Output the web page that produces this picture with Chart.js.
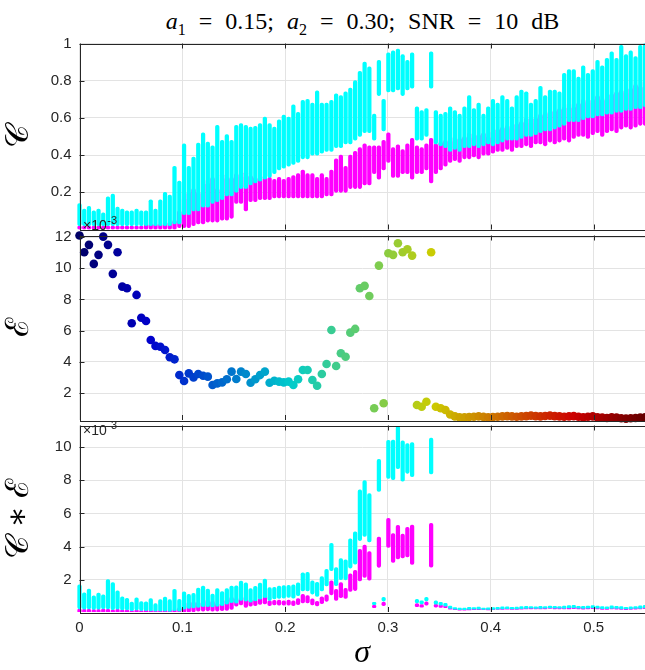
<!DOCTYPE html>
<html>
<head>
<meta charset="utf-8">
<script src="https://cdn.jsdelivr.net/npm/chart.js@4.4.1/dist/chart.umd.min.js"></script>
<style>
  body { margin: 0; background: #fff; width: 645px; height: 670px; overflow: hidden; position: relative; }
  canvas { position: absolute; left: 0; top: 0; }
  #title { position: absolute; left: 80px; width: 565px; top: 7px; text-align: center; white-space: nowrap;
           font: 24px/28px "Liberation Serif", "DejaVu Serif", serif; color: #000; word-spacing: 7px; }
  #title sub { font-size: 16px; line-height: 0; }
</style>
</head>
<body>
<div id="title"><i>a</i><sub>1</sub> = 0.15; <i>a</i><sub>2</sub> = 0.30; SNR = 10 dB</div>
<canvas id="pC" width="645" height="670"></canvas>
<canvas id="pE" width="645" height="670"></canvas>
<canvas id="pCE" width="645" height="670"></canvas>
<script>
// sigma grid (one column of trials per value)
const sigma = [0, .0046, .0092, .0139, .0185, .0231, .0277, .0324, .0370, .0416,
  .0462, .0508, .0555, .0601, .0647, .0693, .0739, .0786, .0832, .0878,
  .0924, .0971, .1017, .1063, .1109, .1155, .1202, .1248, .1294, .1340,
  .1387, .1433, .1479, .1525, .1571, .1618, .1664, .1710, .1756, .1803,
  .1849, .1895, .1941, .1987, .2034, .2080, .2126, .2172, .2218, .2265,
  .2311, .2357, .2403, .2450, .2496, .2542, .2588, .2634, .2681, .2727,
  .2773, .2819, .2866, .2912, .2958, .3004, .3050, .3097, .3143, .3189,
  .3235, .3282, .3328, .3374, .3420, .3466, .3513, .3559, .3605, .3651,
  .3697, .3744, .3790, .3836, .3882, .3929, .3975, .4021, .4067, .4113,
  .4160, .4206, .4252, .4298, .4345, .4391, .4437, .4483, .4529, .4576,
  .4622, .4668, .4714, .4761, .4807, .4853, .4899, .4945, .4992, .5038,
  .5084, .5130, .5176, .5223, .5269, .5315, .5361, .5408, .5454, .5500];

// error E, in units of 1e-3
const errE = [12.1, 11.03, 11.5, 10.28, 10.86, 12.03, 11.5, 9.64, 11.03, 8.82,
  8.72, 6.47, 8.29, 6.83, 6.62, 5.4, 5.02, 4.97, 4.76, 4.29,
  4.16, 3.15, 2.77, 3.26, 3.0, 3.22, 3.11, 3.05, 2.51, 2.62,
  2.68, 2.88, 3.37, 2.9, 3.37, 3.22, 2.66, 2.88, 3.15, 3.37,
  2.66, 2.79, 2.73, 2.68, 2.73, 2.51, 2.88, 3.48, 3.48, 2.83,
  2.47, 3.22, 3.86, 6.04, 3.73, 4.55, 4.33, 5.87, 6.11, 8.72,
  8.87, 8.22, 1.02, 10.17, 1.34, 10.96, 10.86, 11.6, 11.03, 11.22,
  10.81, 1.23, 1.12, 1.44, 11.03, 1.12, 1.02, 0.91, 0.62, 0.5,
  0.45, 0.44, 0.46, 0.48, 0.5, 0.47, 0.45, 0.46, 0.48, 0.5,
  0.52, 0.5, 0.48, 0.5, 0.52, 0.55, 0.52, 0.5, 0.53, 0.55,
  0.52, 0.5, 0.48, 0.5, 0.52, 0.48, 0.45, 0.48, 0.5, 0.45,
  0.42, 0.4, 0.44, 0.42, 0.38, 0.36, 0.38, 0.4, 0.42, 0.45];

// spread of C over the trials at each sigma (cyan series)
const cyanLo = [.02, .02, .02, .02, .02, .02, .02, .02, .02, .02,
  .02, .02, .02, .02, .02, .02, .02, .02, .02, .02,
  .03, .03, .08, .08, .10, .10, .12, .12, .14, .15,
  .16, .18, .18, .20, .22, .22, .24, .25, .26, .27,
  .28, .30, .32, .33, .34, .35, .36, .38, .38, .40,
  .40, .41, .42, .42, .44, .44, .46, .46, .48, .50,
  .52, .52, .48, .72, .53, .74, .74, .75, .72, .75,
  .76, .48, .48, .50, .76, .46, .45, .44, .42, .43,
  .42, .44, .44, .45, .44, .45, .46, .45, .46, .47,
  .48, .48, .48, .49, .50, .50, .51, .52, .53, .53,
  .54, .55, .56, .58, .58, .58, .59, .60, .60, .61,
  .61, .62, .62, .63, .63, .64, .64, .65, .65, .66];
const cyanHi = [.14, .11, .125, .10, .11, .09, .175, .19, .12, .11,
  .10, .10, .11, .10, .10, .16, .11, .16, .20, .185,
  .34, .26, .46, .34, .39, .465, .52, .47, .45, .56,
  .48, .51, .48, .56, .57, .56, .55, .555, .57, .605,
  .57, .55, .59, .615, .605, .67, .63, .695, .70, .68,
  .745, .68, .68, .695, .73, .72, .74, .76, .80, .85,
  .90, .875, .62, .91, .70, .95, .96, .97, .94, .91,
  .95, .66, .64, .65, .955, .64, .62, .63, .66, .64,
  .62, .66, .72, .65, .68, .62, .66, .70, .68, .72,
  .70, .66, .72, .75, .74, .68, .70, .77, .72, .75,
  .75, .74, .84, .86, .86, .82, .88, .84, .86, .91,
  .88, .92, .955, .92, .99, .94, .96, .93, .99, 1.0];
// magenta series
const magLo = [0, 0, 0, 0, 0, 0, 0, 0, 0, 0,
  0, 0, 0, 0, 0, 0, 0, 0, 0, 0,
  0, .01, .01, .01, .02, .03, .03, .04, .04, .04,
  .05, .05, .06, .14, .14, .10, .15, .15, .16, .16,
  .16, .17, .17, .17, .17, .17, .17, .17, .17, .17,
  .17, .17, .18, .18, .20, .20, .20, .22, .22, .22,
  .24, .24, .30, .27, .32, .36, .28, .28, .30, .30,
  .27, .30, .30, .32, .25, .30, .32, .34, .36, .37,
  .36, .38, .38, .39, .38, .40, .40, .41, .42, .42,
  .43, .42, .44, .44, .45, .44, .46, .46, .45, .47,
  .46, .47, .48, .47, .49, .50, .50, .49, .51, .52,
  .50, .52, .53, .52, .54, .55, .54, .55, .56, .56];
const magHi = [.02, .02, .02, .02, .02, .02, .02, .02, .02, .02,
  .02, .02, .02, .02, .03, .03, .03, .03, .04, .04,
  .05, .10, .17, .20, .22, .20, .27, .25, .28, .22,
  .30, .28, .28, .30, .29, .31, .29, .28, .28, .29,
  .28, .27, .28, .27, .28, .29, .30, .32, .30, .30,
  .28, .30, .28, .32, .38, .40, .34, .40, .42, .44,
  .46, .45, .45, .45, .48, .52, .44, .455, .43, .46,
  .49, .45, .44, .46, .49, .46, .47, .48, .50, .48,
  .49, .50, .52, .50, .51, .52, .50, .53, .54, .55,
  .56, .55, .57, .58, .60, .58, .60, .62, .63, .64,
  .64, .65, .66, .68, .66, .68, .70, .69, .70, .72,
  .70, .71, .73, .74, .75, .74, .76, .78, .77, .80];

const xTicks = [0, 0.1, 0.2, 0.3, 0.4, 0.5];
const cTicks = [0.2, 0.4, 0.6, 0.8, 1];
const eTicks = [2, 4, 6, 8, 10, 12];
const ceTicks = [2, 4, 6, 8, 10];

const AXIS = '#262626', GRID = '#e3e3e3';
const SANS = '"Liberation Sans", Arial, sans-serif';
const SERIF = '"Liberation Serif", "DejaVu Serif", serif';

// jet colormap over the sigma range, a bit darkened
function jet(s) {
  const t = s / 0.55;
  const f = v => Math.max(0, Math.min(1, v));
  const k = 0.8 * 255;
  const r = f(1.5 - Math.abs(4 * t - 3)), g = f(1.5 - Math.abs(4 * t - 2)), b = f(1.5 - Math.abs(4 * t - 1));
  return 'rgb(' + Math.round(r * k) + ',' + Math.round(g * k) + ',' + Math.round(b * k) + ')';
}

// box, inward ticks and the x10^-3 exponent
const frame = {
  id: 'frame',
  afterDraw(chart, args, opts) {
    const { ctx, chartArea: a, scales } = chart;
    ctx.save();
    ctx.strokeStyle = AXIS;
    ctx.lineWidth = 1;
    ctx.strokeRect(Math.round(a.left) + .5, Math.round(a.top) + .5, a.right - a.left, Math.round(a.bottom - a.top));
    ctx.beginPath();
    scales.x.ticks.forEach(t => {
      const x = Math.round(scales.x.getPixelForValue(t.value)) + .5;
      ctx.moveTo(x, a.top); ctx.lineTo(x, a.top + 5);
      ctx.moveTo(x, a.bottom); ctx.lineTo(x, a.bottom - 5);
    });
    scales.y.ticks.forEach(t => {
      const y = Math.round(scales.y.getPixelForValue(t.value)) + .5;
      ctx.moveTo(a.left, y); ctx.lineTo(a.left + 5, y);
    });
    ctx.stroke();
    if (opts.exp) {
      ctx.fillStyle = AXIS;
      ctx.textBaseline = 'alphabetic';
      ctx.font = '14px ' + SANS;
      ctx.fillText('\u00d710', 83, opts.exp);
      const w = ctx.measureText('\u00d710').width;
      ctx.font = '11px ' + SANS;
      ctx.fillText('-3', 83 + w + 0.5, opts.exp - 6);
    }
    ctx.restore();
  }
};

function makePanel(id, type, datasets, pad, yCfg, showX) {
  return new Chart(document.getElementById(id), {
    type: type,
    data: { datasets: datasets },
    options: {
      responsive: false,
      animation: false,
      layout: { padding: pad, autoPadding: false },
      plugins: { legend: { display: false }, tooltip: { enabled: false }, frame: { exp: yCfg.exp } },
      scales: {
        x: {
          type: 'linear', min: 0, max: 0.55, offset: false,
          grid: { color: GRID, drawTicks: false, offset: false },
          border: { display: false },
          afterBuildTicks: s => { s.ticks = xTicks.map(v => ({ value: v })); },
          afterFit: s => { s.height = showX ? 58 : 0; },
          ticks: { display: showX, padding: 7, color: AXIS, font: { family: SANS, size: 15 },
                   callback: v => String(v) },
          title: { display: showX, text: '\u03c3', color: '#000', padding: 0,
                   font: { family: SERIF, size: 32, style: 'italic', lineHeight: 1 } }
        },
        y: {
          min: yCfg.min, max: yCfg.max,
          grid: { color: GRID, drawTicks: false },
          border: { display: false },
          afterBuildTicks: s => { s.ticks = yCfg.ticks.map(v => ({ value: v })); },
          afterFit: s => { s.width = 79.5; },
          ticks: { padding: 8, color: AXIS, font: { family: SANS, size: 15 }, callback: v => String(v) },
          title: { display: true, text: yCfg.title, color: '#000', padding: { top: 4, bottom: 0 },
                   font: { family: SERIF, size: 32, lineHeight: 1 } }
        }
      }
    },
    plugins: [frame]
  });
}

function bars(lo, hi, color, scale, order) {
  return {
    type: 'bar',
    data: sigma.map((s, i) => ({ x: s, y: [lo[i] * scale[i], hi[i] * scale[i]] })),
    backgroundColor: color,
    barThickness: 3.6,
    borderRadius: 1.8,
    borderSkipped: false,
    grouped: false,
    clip: { left: 3, right: 3, top: 3, bottom: 0 },
    order: order
  };
}

const ones = sigma.map(() => 1);

// C
makePanel('pC', 'bar', [
  bars(cyanLo, cyanHi, '#00ffff', ones, 1),
  bars(magLo, magHi, '#ff00ff', ones, 2)
], { top: 43.5, bottom: 440.5, left: 0, right: 0 },
  { min: 0, max: 1, ticks: cTicks, title: '\ud835\udc9e' }, false);

// E
makePanel('pE', 'scatter', [{
  data: sigma.map((s, i) => ({ x: s, y: errE[i] })),
  pointBackgroundColor: sigma.map(jet),
  pointBorderWidth: 0,
  pointRadius: 4.3,
  clip: false
}], { top: 235.5, bottom: 250, left: 0, right: 0 },
  { min: 0.27, max: 12.1, ticks: eTicks, title: '\u2130', exp: 230 }, false);

// C * E
makePanel('pCE', 'bar', [
  bars(cyanLo, cyanHi, '#00ffff', errE, 1),
  bars(magLo, magHi, '#ff00ff', errE, 2)
], { top: 425.5, bottom: 0, left: 0, right: 0 },
  { min: 0.05, max: 11.3, ticks: ceTicks, title: '\ud835\udc9e \u2217 \u2130', exp: 435 }, true);
</script>
</body>
</html>
